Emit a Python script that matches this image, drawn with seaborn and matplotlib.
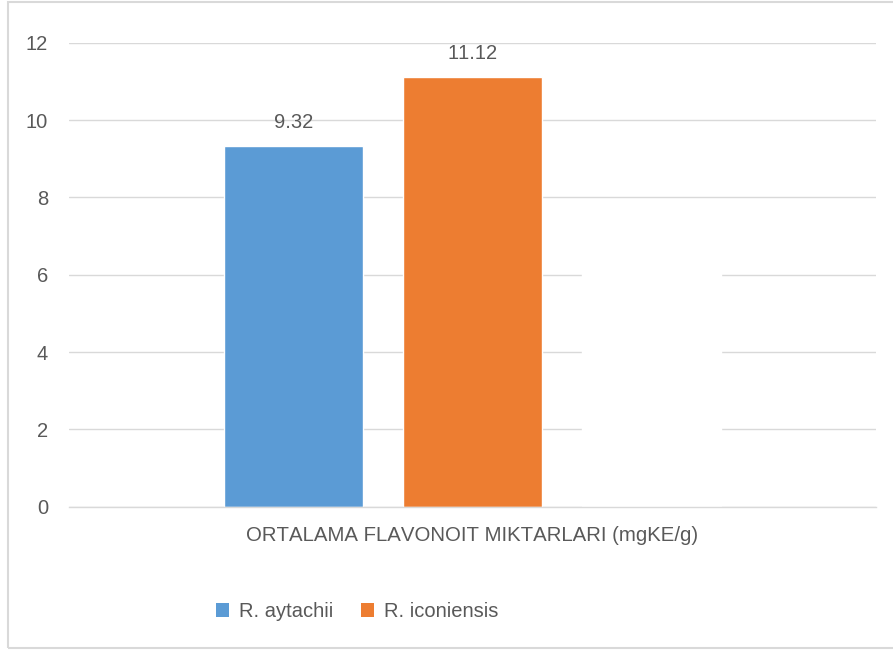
import matplotlib
matplotlib.use("Agg")
import matplotlib.pyplot as plt
import seaborn as sns
import pandas as pd
from matplotlib.patches import Rectangle, Patch

# ---- data ----
category = ["ORTALAMA FLAVONOIT MIKTARLARI (mgKE/g)"]
series = ["R. aytachii", "R. iconiensis", "(hidden)"]
values = [9.32, 11.12, 7.0]
colors = ["#5B9BD5", "#ED7D31", "#FFFFFF"]
yticks = [0, 2, 4, 6, 8, 10, 12]

df = pd.DataFrame({"cat": category * len(series), "series": series, "value": values})

sns.set_theme(style="whitegrid")
plt.rcParams['font.family'] = ['Liberation Sans', 'DejaVu Sans']
plt.rcParams['text.kerning_factor'] = 16
TXT = "#595959"
FS = 14.5

W, H = 893, 652
fig = plt.figure(figsize=(W / 100, H / 100), dpi=100)
ax = fig.add_axes([69 / W, 1 - 506.7 / H, (876 - 69) / W, (506.7 - 42.7) / H])

sns.barplot(data=df, x="cat", y="value", hue="series", palette=colors,
            width=0.6654, gap=0.218, saturation=1, legend=False, ax=ax)

for c in ax.containers[:2]:
    ax.bar_label(c, fmt="%.2f", padding=10, fontsize=FS, color=TXT)

ax.set_ylim(0, 12)
ax.set_yticks(yticks)
ax.set_xlabel("")
ax.set_ylabel("")
ax.grid(axis="y", color="#D9D9D9", linewidth=1.0)
ax.grid(axis="x", visible=False)
ax.set_axisbelow(True)
for s in ["left", "right", "top"]:
    ax.spines[s].set_visible(False)
ax.spines["bottom"].set_color("#D9D9D9")
ax.spines["bottom"].set_linewidth(1.0)
ax.tick_params(axis="y", length=0, pad=15, labelsize=FS, labelcolor=TXT)
ax.tick_params(axis="x", length=0, pad=14, labelsize=14.7, labelcolor=TXT)

handles = [Patch(facecolor=colors[i], edgecolor="none") for i in range(2)]
fig.legend(handles, series[:2], loc="center left",
           bbox_to_anchor=(216 / W, 1 - 611.5 / H), ncol=2, frameon=False,
           fontsize=FS, labelcolor=TXT, borderpad=0, borderaxespad=0,
           handlelength=0.65, handleheight=0.65, handletextpad=0.5,
           columnspacing=1.35)

fig.add_artist(Rectangle((7.5 / W, 4 / H), 1.0, (650.5 - 4) / H,
                         transform=fig.transFigure, fill=False,
                         edgecolor="#D9D9D9", linewidth=1.5))

fig.savefig("out.png", dpi=100)
